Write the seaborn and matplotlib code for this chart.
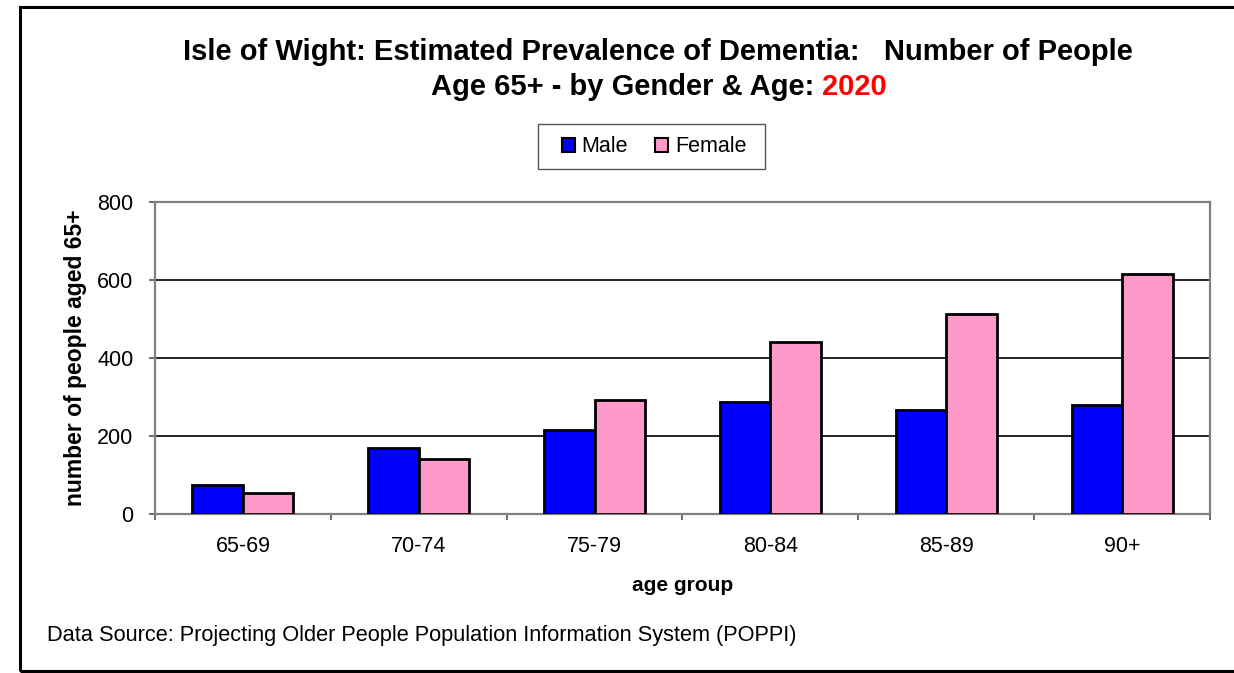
import matplotlib
matplotlib.use("Agg")
import matplotlib.pyplot as plt
import seaborn as sns
import pandas as pd
from matplotlib.patches import Rectangle, Patch

age_groups = ["65-69", "70-74", "75-79", "80-84", "85-89", "90+"]
male = [73, 168, 215, 287, 266, 279]
female = [53, 140, 293, 440, 511, 615]
genders = ["Male", "Female"]
colors = {"Male": "#0000FF", "Female": "#FF99CC"}
yticks = [0, 200, 400, 600, 800]

df = pd.DataFrame({
    "age group": age_groups * 2,
    "value": male + female,
    "gender": ["Male"] * len(age_groups) + ["Female"] * len(age_groups),
})

sns.set_theme(style="white")
plt.rcParams["font.family"] = ["Liberation Sans", "DejaVu Sans"]
plt.rcParams["text.color"] = "black"
plt.rcParams["axes.labelcolor"] = "black"
plt.rcParams["xtick.color"] = "black"
plt.rcParams["ytick.color"] = "black"

W, H = 1234, 673
fig = plt.figure(figsize=(W / 100, H / 100), dpi=100)
ax = fig.add_axes([155 / W, 1 - 514 / H, (1210 - 155) / W, (514 - 201.5) / H])

sns.barplot(data=df, x="age group", y="value", hue="gender", hue_order=genders,
            palette=colors, saturation=1, edgecolor="black", linewidth=2,
            width=0.575, ax=ax, legend=False, zorder=3)

FS = 15.5
ax.set_xlim(-0.5, len(age_groups) - 0.5)
ax.set_ylim(0, 800)
ax.set_yticks(yticks)
ax.set_yticklabels([str(v) for v in yticks], fontsize=FS)
ax.set_xticks(range(len(age_groups)))
ax.set_xticklabels(age_groups, fontsize=FS)
ax.set_xticks([i - 0.5 for i in range(len(age_groups) + 1)], minor=True)
ax.tick_params(axis="x", which="major", length=0, pad=16)
ax.tick_params(axis="x", which="minor", length=4.5, width=1.2, color="#555555",
               direction="out", bottom=True)
ax.tick_params(axis="y", length=4.5, width=1.2, color="#555555", direction="out",
               left=True, pad=11)
for y in yticks[1:-1]:
    ax.axhline(y, color="black", linewidth=1.2, zorder=1)
for s in ax.spines.values():
    s.set_color("#808080")
    s.set_linewidth(1.6)
ax.set_xlabel("age group", fontsize=15, fontweight="bold")
ax.set_ylabel("number of people aged 65+", fontsize=16.5, fontweight="bold")
ax.xaxis.set_label_coords(0.5, (514 - 576) / 312.5)
ax.yaxis.set_label_coords((87 - 155) / 1055, 0.5)

# legend
handles = [Patch(facecolor=colors[g], edgecolor="black", linewidth=1.5, label=g) for g in genders]
leg = fig.legend(handles=handles, loc="center", bbox_to_anchor=(654 / W, 1 - 147 / H),
                 ncol=2, fontsize=FS, frameon=False, handlelength=0.6,
                 handleheight=0.6, handletextpad=0.3, columnspacing=1.3, borderpad=0.5,
                 borderaxespad=0)
fig.patches.append(Rectangle((538 / W, 1 - 169 / H), (765 - 538) / W, 45 / H,
                             transform=fig.transFigure, fill=True, facecolor="white",
                             edgecolor="#555555", linewidth=1.0, zorder=0))

# title
fig.text(657.5 / W, 1 - 52 / H, "Isle of Wight: Estimated Prevalence of Dementia:   Number of People",
         ha="center", va="center", fontsize=21, fontweight="bold")
fig.canvas.draw()
r = fig.canvas.get_renderer()
t1 = fig.text(0, 1 - 87 / H, "Age 65+ - by Gender & Age: ", ha="left", va="center",
              fontsize=21, fontweight="bold")
t2 = fig.text(0, 1 - 87 / H, "2020", ha="left", va="center", fontsize=21,
              fontweight="bold", color="#FF0000")
w1 = t1.get_window_extent(r).width
w2 = t2.get_window_extent(r).width
x0 = 659 - (w1 + w2) / 2
t1.set_x(x0 / W)
t2.set_x((x0 + w1) / W)

fig.text(47 / W, 1 - 635 / H,
         "Data Source: Projecting Older People Population Information System (POPPI)",
         ha="left", va="center", fontsize=15.7)

fig.patches.append(Rectangle((20 / W, 2 / H), 1.2, 1 - 9 / H, transform=fig.transFigure,
                             fill=False, edgecolor="black", linewidth=2.2, zorder=0))

fig.savefig("out.png", dpi=100)
